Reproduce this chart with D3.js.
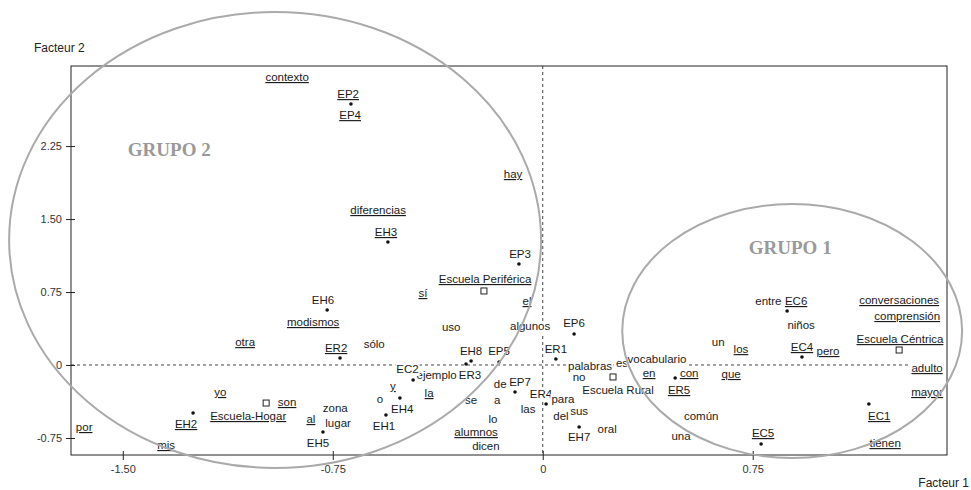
<!DOCTYPE html>
<html>
<head>
<meta charset="utf-8">
<script src="https://cdn.jsdelivr.net/npm/d3@7"></script>
<style>
  body { margin: 0; background: #fff; }
</style>
</head>
<body>
<div id="chart"></div>
<script>
// axis ticks
const xTicks = [-1.5, -0.75, 0, 0.75];
const xTickLabels = ['-1.50', '-0.75', '0', '0.75'];
const yTicks = [2.25, 1.5, 0.75, 0, -0.75];
const yTickLabels = ['2.25', '1.50', '0.75', '0', '-0.75'];

// labels (text position on factor 1 / factor 2), underline = characteristic
const labelText = ['contexto', 'EP2', 'EP4', 'hay', 'diferencias', 'EH3', 'EP3', 'Escuela Periférica', 'el', 'sí',
  'uso', 'algunos', 'EP6', 'ER1', 'EH8', 'EP5', 'ER3', 'ejemplo', 'palabras', 'EH6',
  'modismos', 'ER2', 'sólo', 'EC2', 'y', 'la', 'o', 'EH4', 'EH1', 'zona',
  'lugar', 'al', 'EH5', 'se', 'de', 'a', 'EP7', 'lo', 'alumnos', 'dicen',
  'ER4', 'las', 'para', 'del', 'sus', 'EH7', 'oral', 'no', 'Escuela Rural', 'es',
  'otra', 'yo', 'son', 'Escuela-Hogar', 'EH2', 'por', 'mis', 'entre', 'EC6', 'conversaciones',
  'comprensión', 'niños', 'un', 'los', 'EC4', 'pero', 'Escuela Céntrica', 'vocabulario', 'adulto', 'en',
  'con', 'que', 'ER5', 'mayor', 'EC1', 'común', 'una', 'EC5', 'tienen'];
const labelF1 = [-0.913, -0.695, -0.688, -0.106, -0.588, -0.560, -0.081, -0.206, -0.056, -0.428,
  -0.327, -0.045, 0.112, 0.047, -0.256, -0.156, -0.260, -0.379, 0.169, -0.785,
  -0.820, -0.738, -0.602, -0.483, -0.535, -0.406, -0.581, -0.502, -0.567, -0.741,
  -0.731, -0.828, -0.803, -0.256, -0.152, -0.163, -0.081, -0.178, -0.238, -0.203,
  -0.006, -0.052, 0.072, 0.065, 0.130, 0.130, 0.230, 0.130, 0.269, 0.283,
  -1.063, -1.152, -0.913, -1.052, -1.274, -1.638, -1.345, 0.806, 0.905, 1.273,
  1.302, 0.923, 0.627, 0.708, 0.926, 1.019, 1.276, 0.408, 1.373, 0.380,
  0.523, 0.673, 0.487, 1.373, 1.202, 0.566, 0.494, 0.787, 1.223];
const labelF2 = [2.960, 2.785, 2.569, 1.963, 1.593, 1.367, 1.141, 0.884, 0.658, 0.740,
  0.391, 0.401, 0.432, 0.164, 0.144, 0.144, -0.103, -0.103, -0.005, 0.668,
  0.442, 0.175, 0.216, -0.041, -0.216, -0.288, -0.349, -0.452, -0.627, -0.442,
  -0.596, -0.555, -0.802, -0.360, -0.195, -0.360, -0.175, -0.555, -0.689, -0.832,
  -0.298, -0.452, -0.349, -0.524, -0.473, -0.740, -0.658, -0.123, -0.257, 0.021,
  0.236, -0.277, -0.380, -0.524, -0.606, -0.637, -0.822, 0.658, 0.658, 0.668,
  0.504, 0.411, 0.236, 0.164, 0.185, 0.144, 0.267, 0.062, -0.031, -0.082,
  -0.082, -0.092, -0.257, -0.277, -0.524, -0.524, -0.730, -0.699, -0.802];
const labelUnder = [1, 1, 1, 1, 1, 1, 0, 1, 1, 1,
  0, 0, 0, 0, 0, 0, 0, 0, 0, 0,
  1, 1, 0, 0, 1, 1, 0, 0, 0, 0,
  0, 1, 0, 0, 0, 0, 0, 0, 1, 0,
  0, 0, 0, 0, 0, 0, 0, 0, 0, 0,
  1, 1, 1, 1, 1, 1, 1, 0, 1, 1,
  1, 0, 0, 1, 1, 1, 1, 0, 1, 1,
  1, 1, 1, 1, 1, 0, 0, 1, 1];

// individuals (interviews), plotted as dots
const dotName = ['EP2', 'EH3', 'EP3', 'EH6', 'ER2', 'EH8', 'ER3', 'EP5', 'ER1', 'EP6', 'EC2', 'EH4',
  'EH1', 'EH5', 'EH2', 'EP7', 'ER4', 'EH7', 'ER5', 'EC6', 'EC4', 'EC1', 'EC5'];
const dotF1 = [-0.685, -0.553, -0.085, -0.770, -0.724, -0.274, -0.256, -0.156, 0.047, 0.112, -0.463, -0.510,
  -0.560, -0.785, -1.249, -0.099, 0.012, 0.130, 0.473, 0.873, 0.926, 1.165, 0.780];
const dotF2 = [2.683, 1.264, 1.038, 0.565, 0.072, 0.010, 0.041, 0.031, 0.062, 0.319, -0.154, -0.339,
  -0.514, -0.689, -0.493, -0.277, -0.401, -0.637, -0.134, 0.555, 0.082, -0.401, -0.812];

// schools, plotted as open squares
const schoolName = ['Escuela Periférica', 'Escuela-Hogar', 'Escuela Rural', 'Escuela Céntrica'];
const schoolF1 = [-0.210, -0.988, 0.251, 1.273];
const schoolF2 = [0.761, -0.391, -0.123, 0.154];

// groups drawn as ellipses
const groupName = ['GRUPO 2', 'GRUPO 1'];
const groupCx = [-0.956, 0.891];
const groupCy = [1.285, 0.349];
const groupRx = [0.950, 0.607];
const groupRy = [2.343, 1.305];
const groupLabelF1 = [-1.334, 0.884];
const groupLabelF2 = [2.22, 1.213];

const W = 971, H = 490;
const frame = {left: 71, right: 947, top: 66, bottom: 455};
const sans = '"Liberation Sans", Arial, sans-serif';

const svg = d3.select('#chart').append('svg')
  .attr('width', W).attr('height', H)
  .style('font-family', sans);

const x = d3.scaleLinear().domain([-1.685, 1.444]).range([frame.left, frame.right]);
const y = d3.scaleLinear().domain([-0.925, 3.073]).range([frame.bottom, frame.top]);

// dashed zero lines
svg.append('line')
  .attr('x1', frame.left).attr('x2', frame.right)
  .attr('y1', y(0)).attr('y2', y(0))
  .attr('stroke', '#444').attr('stroke-dasharray', '3,3');
svg.append('line')
  .attr('x1', x(0)).attr('x2', x(0))
  .attr('y1', frame.top).attr('y2', frame.bottom)
  .attr('stroke', '#444').attr('stroke-dasharray', '3,3');

// axes
const xAxis = svg.append('g')
  .attr('transform', `translate(0,${frame.bottom})`)
  .call(d3.axisBottom(x).tickValues(xTicks).tickFormat((d, i) => xTickLabels[i]).tickSize(5).tickPadding(5));
const yAxis = svg.append('g')
  .attr('transform', `translate(${frame.left},0)`)
  .call(d3.axisLeft(y).tickValues(yTicks).tickFormat((d, i) => yTickLabels[i]).tickSize(5).tickPadding(4));

[xAxis, yAxis].forEach(g => {
  g.select('.domain').remove();
  g.attr('font-family', sans);
  g.selectAll('text').attr('font-size', 11).attr('fill', '#333');
  g.selectAll('line').attr('stroke', '#222');
});
xAxis.selectAll('line').attr('y1', -4).attr('y2', 5);
yAxis.selectAll('line').attr('x1', 4).attr('x2', -5);

// frame
svg.append('rect')
  .attr('x', frame.left).attr('y', frame.top)
  .attr('width', frame.right - frame.left).attr('height', frame.bottom - frame.top)
  .attr('fill', 'none').attr('stroke', '#222');

svg.append('text').attr('x', 34).attr('y', 52)
  .attr('font-size', 12).attr('fill', '#222').text('Facteur 2');
svg.append('text').attr('x', 969).attr('y', 487)
  .attr('text-anchor', 'end').attr('font-size', 12).attr('fill', '#222').text('Facteur 1');

// labels with white background
const labels = labelText.map((t, i) => ({t, f1: labelF1[i], f2: labelF2[i], u: labelUnder[i]}));
const lab = svg.append('g').selectAll('g').data(labels).enter().append('g');
lab.append('rect').attr('fill', '#fff');
lab.append('text')
  .attr('x', d => x(d.f1)).attr('y', d => y(d.f2))
  .attr('dy', '0.35em')
  .attr('text-anchor', 'middle')
  .attr('font-size', 11.5)
  .attr('fill', '#1a1a1a')
  .attr('text-decoration', d => d.u ? 'underline' : null)
  .text(d => d.t);
lab.each(function() {
  const g = d3.select(this);
  const b = g.select('text').node().getBBox();
  g.select('rect').attr('x', b.x - 1).attr('y', b.y + 1)
    .attr('width', b.width + 2).attr('height', b.height);
});

// markers
svg.append('g').selectAll('circle')
  .data(dotName.map((n, i) => ({n, f1: dotF1[i], f2: dotF2[i]})))
  .enter().append('circle')
  .attr('cx', d => x(d.f1)).attr('cy', d => y(d.f2))
  .attr('r', 1.8).attr('fill', '#111');

svg.append('g').selectAll('rect')
  .data(schoolName.map((n, i) => ({n, f1: schoolF1[i], f2: schoolF2[i]})))
  .enter().append('rect')
  .attr('x', d => x(d.f1) - 3).attr('y', d => y(d.f2) - 3)
  .attr('width', 6).attr('height', 6)
  .attr('fill', '#fff').attr('stroke', '#222');

// group ellipses
const groups = groupName.map((n, i) => ({n, cx: groupCx[i], cy: groupCy[i], rx: groupRx[i], ry: groupRy[i],
  lx: groupLabelF1[i], ly: groupLabelF2[i]}));
svg.append('g').selectAll('ellipse').data(groups).enter().append('ellipse')
  .attr('cx', d => x(d.cx)).attr('cy', d => y(d.cy))
  .attr('rx', d => x(d.cx + d.rx) - x(d.cx))
  .attr('ry', d => y(d.cy - d.ry) - y(d.cy))
  .attr('fill', 'none').attr('stroke', '#aaa').attr('stroke-width', 2);
svg.append('g').selectAll('text').data(groups).enter().append('text')
  .attr('x', d => x(d.lx)).attr('y', d => y(d.ly))
  .attr('dy', '0.35em')
  .attr('text-anchor', 'middle')
  .style('font-family', '"Liberation Serif", "Times New Roman", serif')
  .attr('font-weight', 'bold').attr('font-size', 19)
  .attr('fill', '#999')
  .text(d => d.n);
</script>
</body>
</html>
